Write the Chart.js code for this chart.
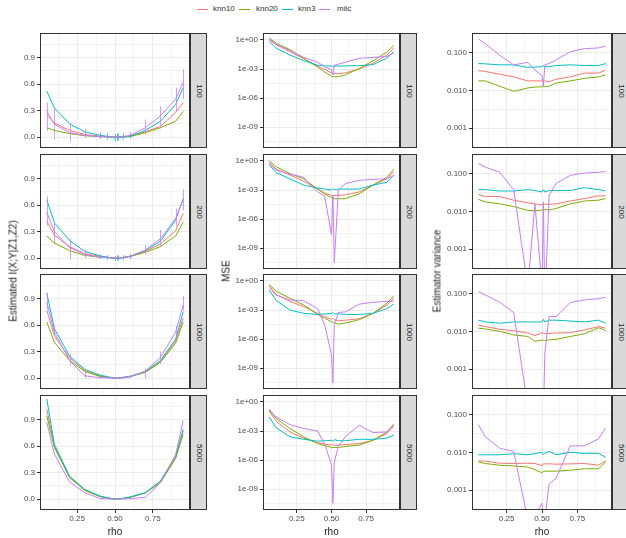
<!DOCTYPE html>
<html>
<head>
<meta charset="utf-8">
<script src="https://cdn.jsdelivr.net/npm/chart.js@4.4.1/dist/chart.umd.min.js"></script>
<style>
  body { margin: 0; width: 626px; height: 538px; overflow: hidden; background: #fff;
         position: relative; font-family: "Liberation Sans", Arial, sans-serif; }
  .panel { position: absolute; }
  .strip { position: absolute; box-sizing: border-box; background: #D9D9D9; border: 1px solid #333; }
  .strip span { position: absolute; left: 50%; top: 50%; transform: translate(-50%, -50%) rotate(90deg);
                font-size: 8px; color: #1A1A1A; white-space: nowrap; }
  .ytitle { position: absolute; transform: translate(-50%, -50%) rotate(-90deg); font-size: 10px; white-space: nowrap; color: #1A1A1A; }
  .xtitle { position: absolute; transform: translate(-50%, -50%); font-size: 10px; color: #1A1A1A; }
  .key { position: absolute; top: 9px; width: 11px; height: 1px; }
  .ltext { position: absolute; top: 4px; font-size: 8px; line-height: 10px; color: #333; }
</style>
</head>
<body>
<div id="legend"></div>
<script>
// x values (rho)
const rho = [0.05, 0.1, 0.2, 0.3, 0.4, 0.45, 0.5, 0.51, 0.52, 0.55, 0.6, 0.7, 0.8, 0.9, 0.95];
const methods = ['knn10', 'knn20', 'knn3', 'miic'];
const colours = ['#F8766D', '#7CAE00', '#00BFC4', '#C77CFF'];
const sampleSizes = ['100', '200', '1000', '5000'];
const rhoTicks = [0.25, 0.5, 0.75];

// Estimated I(X;Y|Z1,Z2)
const est100_knn10 = [0.25, 0.16, 0.075, 0.03, 0.01, 0.005, 0.0, 0.0, 0.0, 0.003, 0.01, 0.06, 0.12, 0.28, 0.39];
const est100_knn20 = [0.105, 0.075, 0.04, 0.015, 0.005, 0.002, 0.0, 0.0, 0.0, 0.002, 0.005, 0.05, 0.105, 0.18, 0.29];
const est100_knn3  = [0.52, 0.33, 0.15, 0.06, 0.02, 0.008, -0.01, 0.0, 0.0, 0.0, 0.01, 0.075, 0.18, 0.37, 0.56];
const est100_miic  = [0.29, 0.145, 0.05, 0.02, 0.005, 0.002, 0.0, 0.0, 0.0, 0.004, 0.02, 0.105, 0.24, 0.43, 0.62];
const est200_knn10 = [0.42, 0.26, 0.13, 0.05, 0.02, 0.008, 0.0, 0.0, 0.0, 0.005, 0.015, 0.075, 0.16, 0.31, 0.51];
const est200_knn20 = [0.25, 0.17, 0.085, 0.03, 0.01, 0.005, 0.0, 0.0, 0.0, 0.004, 0.02, 0.065, 0.13, 0.25, 0.41];
const est200_knn3  = [0.66, 0.40, 0.20, 0.075, 0.026, 0.01, -0.005, 0.0, -0.005, 0.005, 0.02, 0.085, 0.19, 0.43, 0.675];
const est200_miic  = [0.52, 0.30, 0.12, 0.04, 0.01, 0.004, 0.0, 0.0, 0.0, 0.005, 0.02, 0.09, 0.22, 0.45, 0.66];
const est1000_knn10 = [0.77, 0.48, 0.23, 0.085, 0.025, 0.01, 0.0, 0.0, 0.0, 0.005, 0.02, 0.07, 0.185, 0.42, 0.68];
const est1000_knn20 = [0.635, 0.405, 0.2, 0.075, 0.02, 0.008, 0.0, 0.0, 0.0, 0.004, 0.015, 0.065, 0.18, 0.395, 0.635];
const est1000_knn3  = [0.96, 0.56, 0.25, 0.10, 0.035, 0.015, 0.0, 0.0, 0.0, 0.006, 0.02, 0.075, 0.2, 0.44, 0.75];
const est1000_miic  = [0.86, 0.52, 0.2, 0.025, 0.005, 0.002, 0.0, 0.0, 0.0, 0.002, 0.015, 0.08, 0.235, 0.52, 0.83];
const est5000_knn10 = [1.02, 0.6, 0.25, 0.1, 0.03, 0.012, 0.0, 0.0, 0.0, 0.006, 0.02, 0.07, 0.2, 0.47, 0.775];
const est5000_knn20 = [0.945, 0.585, 0.245, 0.1, 0.03, 0.012, 0.0, 0.0, 0.0, 0.006, 0.02, 0.07, 0.185, 0.46, 0.735];
const est5000_knn3  = [1.135, 0.62, 0.26, 0.11, 0.035, 0.014, 0.0, 0.0, 0.0, 0.007, 0.025, 0.072, 0.205, 0.49, 0.79];
const est5000_miic  = [0.87, 0.51, 0.195, 0.072, 0.008, 0.002, 0.0, 0.0, 0.0, 0.001, 0.005, 0.02, 0.185, 0.5, 0.89];

// error bars on the estimates
const err100_miic_lo = [0.07, -0.03, -0.05, -0.01, -0.02, -0.01, -0.01, -0.01, -0.01, -0.01, -0.01, 0.03, 0.10, 0.29, 0.43];
const err100_miic_hi = [0.39, 0.33, 0.16, 0.09, 0.05, 0.03, 0.02, 0.02, 0.02, 0.03, 0.06, 0.20, 0.35, 0.56, 0.77];
const err100_knn3_lo = [null, null, null, null, -0.02, -0.03, -0.045, -0.04, -0.04, -0.03, -0.015, null, null, null, null];
const err100_knn3_hi = [null, null, null, null, 0.05, 0.04, 0.035, 0.04, 0.04, 0.04, 0.04, null, null, null, null];
const err200_miic_lo = [0.37, 0.17, -0.02, 0.0, -0.01, -0.01, -0.01, -0.01, -0.01, -0.01, -0.01, 0.04, 0.13, 0.36, 0.54];
const err200_miic_hi = [0.70, 0.41, 0.22, 0.09, 0.04, 0.03, 0.02, 0.02, 0.02, 0.03, 0.05, 0.15, 0.32, 0.56, 0.78];
const err200_knn3_lo = [null, null, null, null, -0.01, -0.02, -0.03, -0.03, -0.03, -0.02, -0.01, null, null, null, null];
const err200_knn3_hi = [null, null, null, null, 0.04, 0.03, 0.02, 0.03, 0.03, 0.03, 0.04, null, null, null, null];
const err1000_miic_lo = [0.78, 0.48, 0.14, 0.0, -0.01, -0.01, -0.01, -0.01, -0.01, -0.01, 0.0, 0.0, 0.16, 0.44, 0.76];
const err1000_miic_hi = [0.97, 0.59, 0.27, 0.08, 0.02, 0.02, 0.01, 0.01, 0.01, 0.02, 0.03, 0.11, 0.30, 0.59, 0.93];

// MSE
const mse100_knn10 = [1.0, 0.32, 6.3e-2, 1.1e-2, 2e-3, 9e-4, 4e-4, 3.5e-4, 3.5e-4, 3.2e-4, 4e-4, 1e-3, 4e-3, 2.8e-2, 0.14];
const mse100_knn20 = [1.5, 0.46, 0.1, 1.26e-2, 1.6e-3, 5e-4, 1.8e-4, 1.6e-4, 1.6e-4, 1.6e-4, 2.5e-4, 1.1e-3, 7e-3, 5.6e-2, 0.26];
const mse100_knn3  = [0.68, 0.14, 2.8e-2, 7e-3, 2.5e-3, 2.1e-3, 2e-3, 2e-3, 2e-3, 2e-3, 2.1e-3, 2.2e-3, 2.8e-3, 1.3e-2, 6.3e-2];
const mse100_miic  = [1.26, 0.35, 7.9e-2, 1.6e-2, 5e-3, 1.8e-3, 8e-4, 2.5e-4, 2.5e-3, 3.2e-3, 5e-3, 1.26e-2, 1.6e-2, 2e-2, 4.5e-2];
const mse200_knn10 = [0.68, 0.14, 3.5e-2, 7.9e-3, 1.26e-3, 5e-4, 2.8e-4, 2.8e-4, 2.8e-4, 2.8e-4, 3.2e-4, 6.3e-4, 3.2e-3, 1.4e-2, 7.9e-2];
const mse200_knn20 = [1.0, 0.25, 5e-2, 1.4e-2, 1.26e-3, 4e-4, 1.6e-4, 1.4e-4, 1.26e-4, 1.26e-4, 1.26e-4, 4e-4, 3.2e-3, 2e-2, 0.14];
const mse200_knn3  = [0.4, 6.3e-2, 1.4e-2, 3.2e-3, 1.6e-3, 1.26e-3, 1e-3, 1.4e-3, 1.1e-3, 1.26e-3, 1.26e-3, 1.26e-3, 3.2e-3, 6.3e-3, 3.2e-2];
const mse200_miic  = [0.54, 0.11, 4.5e-2, 2e-2, 6.3e-4, 2.5e-4, 2.5e-8, 2.8e-4, 3.2e-11, 1e-3, 4.5e-3, 1e-2, 1.26e-2, 1.4e-2, 3.2e-2];
const mse1000_knn10 = [0.32, 4e-2, 7.9e-3, 2.2e-3, 4.5e-4, 2e-4, 1.1e-4, 1.4e-4, 1e-4, 7.9e-5, 8.9e-5, 1.26e-4, 4.5e-4, 3.2e-3, 1.6e-2];
const mse1000_knn20 = [0.43, 8.9e-2, 1.6e-2, 3.2e-3, 3.5e-4, 1.4e-4, 6.3e-5, 5.6e-5, 5e-5, 3.5e-5, 4.5e-5, 1e-4, 4.5e-4, 5e-3, 2.8e-2];
const mse1000_knn3  = [0.11, 1e-2, 1e-3, 4.5e-4, 3.5e-4, 4e-4, 4.5e-4, 5.6e-4, 4e-4, 4e-4, 3.5e-4, 3.5e-4, 4.5e-4, 1.4e-3, 4e-3];
const mse1000_miic  = [0.2, 3.5e-2, 1.1e-2, 8.9e-3, 1.4e-3, 3.2e-5, 2.5e-8, 3.2e-11, 3.2e-5, 5.6e-4, 6.3e-4, 4e-3, 6.3e-3, 7.9e-3, 7.9e-3];
const mse5000_knn10 = [0.11, 1e-2, 7.9e-4, 1.8e-4, 6.3e-5, 4.5e-5, 3.5e-5, 4.5e-5, 3.2e-5, 3.5e-5, 4e-5, 5e-5, 1.1e-4, 5.6e-4, 2.8e-3];
const mse5000_knn20 = [0.14, 2e-2, 1.8e-3, 2.5e-4, 5e-5, 3.2e-5, 2e-5, 2e-5, 2e-5, 2e-5, 2.5e-5, 3.5e-5, 1.1e-4, 7.9e-4, 5e-3];
const mse5000_knn3  = [2.8e-2, 2.2e-3, 2.5e-4, 1.4e-4, 8.9e-5, 1e-4, 1.1e-4, 8.9e-5, 1.26e-4, 1e-4, 1e-4, 1.4e-4, 1.4e-4, 1.8e-4, 4e-4];
const mse5000_miic  = [0.18, 2.8e-2, 4.5e-3, 1.8e-3, 1e-3, 5e-5, 3.2e-7, 3.5e-11, 6.3e-7, 2.5e-5, 2.5e-4, 4e-3, 7e-4, 7.9e-4, 4e-3];

// Estimator variance
const var100_knn10 = [0.034, 0.032, 0.027, 0.023, 0.018, 0.018, 0.018, 0.018, 0.018, 0.017, 0.020, 0.023, 0.029, 0.029, 0.035];
const var100_knn20 = [0.018, 0.018, 0.013, 0.0095, 0.0117, 0.0123, 0.0126, 0.0126, 0.0126, 0.013, 0.0158, 0.018, 0.021, 0.023, 0.026];
const var100_knn3  = [0.052, 0.051, 0.048, 0.048, 0.041, 0.042, 0.043, 0.046, 0.043, 0.043, 0.046, 0.048, 0.046, 0.046, 0.052];
const var100_miic  = [0.234, 0.174, 0.087, 0.048, 0.056, 0.035, 0.025, 0.013, 0.048, 0.052, 0.065, 0.107, 0.129, 0.135, 0.151];
const var200_knn10 = [0.029, 0.025, 0.025, 0.020, 0.017, 0.016, 0.015, 0.0155, 0.0155, 0.0155, 0.016, 0.019, 0.022, 0.026, 0.026];
const var200_knn20 = [0.021, 0.018, 0.016, 0.0135, 0.0107, 0.0105, 0.011, 0.011, 0.0112, 0.011, 0.012, 0.016, 0.019, 0.020, 0.022];
const var200_knn3  = [0.038, 0.038, 0.035, 0.035, 0.038, 0.036, 0.033, 0.038, 0.033, 0.036, 0.036, 0.036, 0.043, 0.038, 0.035];
const var200_miic  = [0.19, 0.15, 0.11, 0.038, 0.0001, 0.016, 0.0001, 0.018, 0.00003, 0.027, 0.056, 0.091, 0.105, 0.11, 0.115];
const var1000_knn10 = [0.0148, 0.0135, 0.0115, 0.0105, 0.0091, 0.0078, 0.0093, 0.0087, 0.0087, 0.0089, 0.0091, 0.0093, 0.011, 0.0135, 0.0123];
const var1000_knn20 = [0.0123, 0.0117, 0.0102, 0.0081, 0.0074, 0.0055, 0.0059, 0.0059, 0.0058, 0.006, 0.0062, 0.0074, 0.0087, 0.0126, 0.0107];
const var1000_knn3  = [0.020, 0.018, 0.0166, 0.018, 0.018, 0.0178, 0.018, 0.021, 0.018, 0.020, 0.020, 0.019, 0.018, 0.020, 0.0166];
const var1000_miic  = [0.115, 0.093, 0.06, 0.032, 0.0001, 0.00003, 0.00003, 0.00006, 0.0027, 0.025, 0.025, 0.059, 0.069, 0.074, 0.081];
const var5000_knn10 = [0.006, 0.0059, 0.0052, 0.0051, 0.0052, 0.0051, 0.0045, 0.005, 0.005, 0.005, 0.0049, 0.005, 0.0051, 0.0046, 0.006];
const var5000_knn20 = [0.0056, 0.0051, 0.0046, 0.0044, 0.0041, 0.0035, 0.0029, 0.0032, 0.0032, 0.0032, 0.0032, 0.0034, 0.0037, 0.0037, 0.0056];
const var5000_knn3  = [0.0087, 0.0087, 0.0087, 0.0093, 0.0087, 0.0093, 0.0102, 0.0087, 0.0095, 0.0107, 0.0087, 0.0102, 0.0095, 0.0095, 0.0074];
const var5000_miic  = [0.055, 0.026, 0.013, 0.0107, 0.00016, 0.0002, 0.00045, 0.00016, 0.00016, 0.00145, 0.0021, 0.015, 0.015, 0.023, 0.045];

// tick labels per column
const estTicks = [0, 0.3, 0.6, 0.9];
const mseTicks = [1e-9, 1e-6, 1e-3, 1];
const varTicks = [0.001, 0.01, 0.1];

const series = {
  est: [[est100_knn10, est100_knn20, est100_knn3, est100_miic],
        [est200_knn10, est200_knn20, est200_knn3, est200_miic],
        [est1000_knn10, est1000_knn20, est1000_knn3, est1000_miic],
        [est5000_knn10, est5000_knn20, est5000_knn3, est5000_miic]],
  mse: [[mse100_knn10, mse100_knn20, mse100_knn3, mse100_miic],
        [mse200_knn10, mse200_knn20, mse200_knn3, mse200_miic],
        [mse1000_knn10, mse1000_knn20, mse1000_knn3, mse1000_miic],
        [mse5000_knn10, mse5000_knn20, mse5000_knn3, mse5000_miic]],
  var: [[var100_knn10, var100_knn20, var100_knn3, var100_miic],
        [var200_knn10, var200_knn20, var200_knn3, var200_miic],
        [var1000_knn10, var1000_knn20, var1000_knn3, var1000_miic],
        [var5000_knn10, var5000_knn20, var5000_knn3, var5000_miic]]
};
const errorBarsByRow = [
  [{lo: err100_knn3_lo, hi: err100_knn3_hi, colour: colours[2]}, {lo: err100_miic_lo, hi: err100_miic_hi, colour: colours[3]}],
  [{lo: err200_knn3_lo, hi: err200_knn3_hi, colour: colours[2]}, {lo: err200_miic_lo, hi: err200_miic_hi, colour: colours[3]}],
  [{lo: err1000_miic_lo, hi: err1000_miic_hi, colour: colours[3]}],
  []
];

function sameValue(a, b) {
  if (b === 0) return Math.abs(a) < 1e-9;
  return Math.abs(a / b - 1) < 1e-6;
}
function pad2(n) { return String(n).padStart(2, '0'); }

const columns = [
  { key: 'est', title: 'Estimated I(X;Y|Z1,Z2)', titleX: 13, left: 40, width: 150,
    type: 'linear', min: -0.124, max: 1.18, majors: estTicks, minors: [0.15, 0.45, 0.75, 1.05],
    fmt: v => v.toFixed(1) },
  { key: 'mse', title: 'MSE', titleX: 226, left: 263, width: 137,
    type: 'logarithmic', min: 7.1e-12, max: 5.2, majors: mseTicks,
    minors: [Math.pow(10, -10.5), Math.pow(10, -7.5), Math.pow(10, -4.5), Math.pow(10, -1.5)],
    fmt: v => { const e = Math.round(Math.log10(v)); return '1e' + (e < 0 ? '-' : '+') + pad2(Math.abs(e)); } },
  { key: 'var', title: 'Estimator variance', titleX: 437, left: 472, width: 140,
    type: 'logarithmic', min: 2.98e-4, max: 0.336, majors: varTicks,
    minors: [Math.pow(10, -3.5), Math.pow(10, -2.5), Math.pow(10, -1.5), Math.pow(10, -0.5)],
    fmt: v => v.toFixed(3) }
];
const rowTops = [33, 154, 274, 395];
const panelH = 115;
const yAxisW = 40;
const xMinors = [0.125, 0.375, 0.625, 0.875];

Chart.defaults.font.family = '"Liberation Sans", Arial, sans-serif';
Chart.defaults.font.size = 8;
Chart.defaults.color = '#4D4D4D';

const panelBorder = {
  id: 'panelBorder',
  afterDraw(chart) {
    const { ctx, chartArea: a } = chart;
    ctx.save();
    ctx.strokeStyle = '#333333';
    ctx.lineWidth = 1;
    ctx.strokeRect(a.left + 0.5, a.top + 0.5, a.right - a.left - 1, a.bottom - a.top - 1);
    ctx.restore();
  }
};

const errorBars = {
  id: 'errorBars',
  afterDatasetsDraw(chart, args, opts) {
    if (!opts.bars || !opts.bars.length) return;
    const { ctx, chartArea: a, scales } = chart;
    ctx.save();
    ctx.beginPath();
    ctx.rect(a.left, a.top, a.right - a.left, a.bottom - a.top);
    ctx.clip();
    ctx.lineWidth = 1;
    ctx.globalAlpha = 0.75;
    opts.bars.forEach(b => {
      ctx.strokeStyle = b.colour;
      rho.forEach((r, j) => {
        if (b.lo[j] == null) return;
        const px = Math.round(scales.x.getPixelForValue(r)) + 0.5;
        ctx.beginPath();
        ctx.moveTo(px, scales.y.getPixelForValue(b.lo[j]));
        ctx.lineTo(px, scales.y.getPixelForValue(b.hi[j]));
        ctx.stroke();
      });
    });
    ctx.restore();
  }
};
Chart.register(panelBorder, errorBars);

function isMajor(v, majors) { return majors.some(m => sameValue(v, m)); }

columns.forEach((col, c) => {
  rowTops.forEach((top, r) => {
    const bottomRow = r === rowTops.length - 1;
    const div = document.createElement('div');
    div.className = 'panel';
    div.style.left = (col.left - yAxisW) + 'px';
    div.style.top = (top - 1) + 'px';
    const cw = yAxisW + col.width + 1;
    const ch = panelH + 2 + (bottomRow ? 22 : 0);
    const canvas = document.createElement('canvas');
    canvas.width = cw;
    canvas.height = ch;
    canvas.style.width = cw + 'px';
    canvas.style.height = ch + 'px';
    div.appendChild(canvas);
    document.body.appendChild(div);

    const yTicks = col.majors.concat(col.minors).filter(v => v >= col.min && v <= col.max);
    const xTicks = rhoTicks.concat(xMinors);

    new Chart(canvas, {
      type: 'line',
      data: {
        datasets: methods.map((m, i) => ({
          label: m,
          data: rho.map((x, j) => ({ x: x, y: series[col.key][r][i][j] })),
          borderColor: colours[i],
          borderWidth: 1,
          pointRadius: 0,
          fill: false,
          tension: 0,
          order: 3 - i,
          clip: 0
        }))
      },
      options: {
        responsive: false,
        animation: false,
        events: [],
        layout: { padding: { left: 0, top: 1, right: 1, bottom: bottomRow ? 0 : 1 } },
        scales: {
          x: {
            type: 'linear',
            min: 0.005,
            max: 0.995,
            bounds: 'data',
            afterBuildTicks: s => { s.ticks = xTicks.map(v => ({ value: v })); },
            afterFit: s => {
              s.height = bottomRow ? 23 : 0;
              s.paddingLeft = 0; s.paddingRight = 0; s.paddingTop = 0; s.paddingBottom = 0;
            },
            border: { display: false },
            grid: {
              color: ctx => isMajor(ctx.tick.value, rhoTicks) ? '#EBEBEB' : '#F3F3F3',
              lineWidth: 1,
              drawTicks: bottomRow,
              tickLength: 3,
              tickColor: ctx => isMajor(ctx.tick.value, rhoTicks) ? '#333333' : 'rgba(0,0,0,0)'
            },
            ticks: {
              display: bottomRow,
              autoSkip: false,
              maxRotation: 0,
              minRotation: 0,
              padding: 1,
              color: '#4D4D4D',
              callback: v => isMajor(v, rhoTicks) ? v.toFixed(2) : ''
            }
          },
          y: {
            type: col.type,
            min: col.min,
            max: col.max,
            bounds: 'data',
            afterBuildTicks: s => { s.ticks = yTicks.map(v => ({ value: v })); },
            afterFit: s => {
              s.width = yAxisW;
              s.paddingLeft = 0; s.paddingRight = 0; s.paddingTop = 0; s.paddingBottom = 0;
            },
            border: { display: false },
            grid: {
              color: ctx => isMajor(ctx.tick.value, col.majors) ? '#EBEBEB' : '#F3F3F3',
              lineWidth: 1,
              drawTicks: true,
              tickLength: 3,
              tickColor: ctx => isMajor(ctx.tick.value, col.majors) ? '#333333' : 'rgba(0,0,0,0)'
            },
            ticks: {
              autoSkip: false,
              padding: 2,
              color: '#4D4D4D',
              callback: v => isMajor(v, col.majors) ? col.fmt(v) : ''
            }
          }
        },
        plugins: {
          legend: { display: false },
          tooltip: { enabled: false },
          errorBars: { bars: c === 0 ? errorBarsByRow[r] : [] }
        }
      }
    });

    // facet strip on the right
    const strip = document.createElement('div');
    strip.className = 'strip';
    strip.style.left = (col.left + col.width) + 'px';
    strip.style.top = top + 'px';
    strip.style.width = '17px';
    strip.style.height = panelH + 'px';
    const st = document.createElement('span');
    st.textContent = sampleSizes[r];
    strip.appendChild(st);
    document.body.appendChild(strip);
  });

  const yt = document.createElement('div');
  yt.className = 'ytitle';
  yt.style.left = col.titleX + 'px';
  yt.style.top = '271px';
  yt.textContent = col.title;
  document.body.appendChild(yt);

  const xt = document.createElement('div');
  xt.className = 'xtitle';
  xt.style.left = (col.left + col.width / 2) + 'px';
  xt.style.top = '531px';
  xt.textContent = 'rho';
  document.body.appendChild(xt);
});

// legend
const legendKeyX = [197, 239, 282, 319];
const legendTextX = [213, 256, 298, 337];
const legend = document.getElementById('legend');
methods.forEach((m, i) => {
  const k = document.createElement('div');
  k.className = 'key';
  k.style.left = legendKeyX[i] + 'px';
  k.style.background = colours[i];
  legend.appendChild(k);
  const t = document.createElement('div');
  t.className = 'ltext';
  t.style.left = legendTextX[i] + 'px';
  t.textContent = m;
  legend.appendChild(t);
});
</script>
</body>
</html>
